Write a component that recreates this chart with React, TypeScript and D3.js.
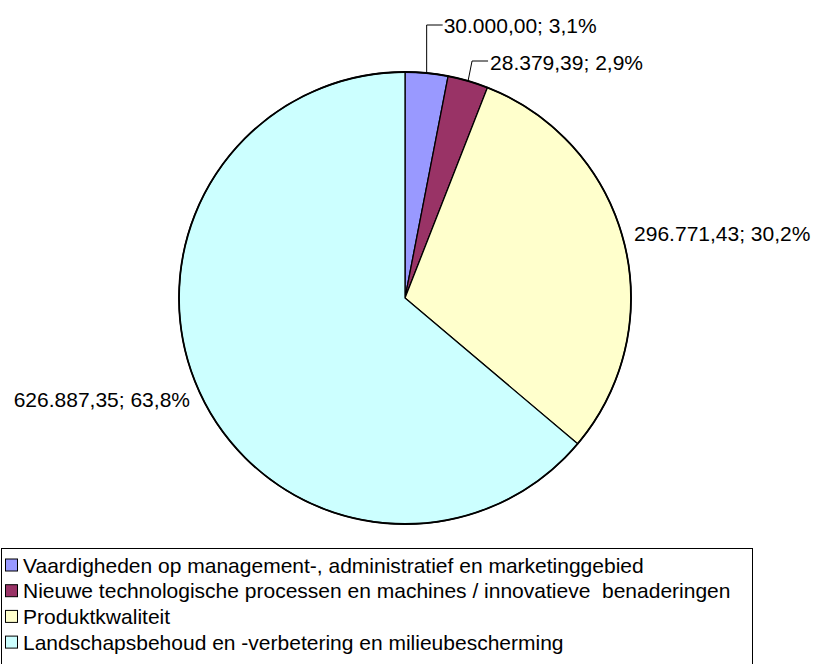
import React from "react";
import * as d3 from "d3";

const categories = [
  "Vaardigheden op management-, administratief en marketinggebied",
  "Nieuwe technologische processen en machines / innovatieve  benaderingen",
  "Produktkwaliteit",
  "Landschapsbehoud en -verbetering en milieubescherming",
];
const values = [30000.0, 28379.39, 296771.43, 626887.35];
const colors = ["#9999FF", "#993366", "#FFFFCC", "#CCFFFF"];

const W = 816;
const H = 664;
const cx = 405;
const cy = 298;
const R = 226;
const FONT = "'Liberation Sans', Arial, sans-serif";

const fmtNum = (v: number) =>
  v.toLocaleString("nl-NL", { minimumFractionDigits: 2, maximumFractionDigits: 2 });
const fmtPct = (p: number) =>
  (p * 100).toLocaleString("nl-NL", { minimumFractionDigits: 1, maximumFractionDigits: 1 }) + "%";

export default function App() {
  const total = d3.sum(values);
  const pie = d3.pie<number>().sort(null).value((d) => d)(values);
  const arc = d3.arc<d3.PieArcDatum<number>>().innerRadius(0).outerRadius(R);

  const labels = pie.map((p, i) => `${fmtNum(values[i])}; ${fmtPct(values[i] / total)}`);
  const edge = (p: d3.PieArcDatum<number>) => {
    const a = (p.startAngle + p.endAngle) / 2;
    return [cx + R * Math.sin(a), cy - R * Math.cos(a)];
  };

  const e0 = edge(pie[0]);
  const e1 = edge(pie[1]);
  const e2 = edge(pie[2]);
  const e3 = edge(pie[3]);

  const rowH = 25.7;
  const legTop = 548;

  return (
    <svg
      width={W}
      height={H}
      style={{ position: "fixed", left: 0, top: 0, background: "#fff" }}
      fontFamily={FONT}
    >
      <g transform={`translate(${cx},${cy})`}>
        {pie.map((p, i) => (
          <path key={i} d={arc(p) || ""} fill={colors[i]} stroke="#000" strokeWidth={1.3} />
        ))}
        <circle r={R} fill="none" stroke="#000" strokeWidth={1.8} />
      </g>
      {/* leader lines */}
      <polyline
        points={`${e0[0]},${e0[1]} ${e0[0]},25 ${e0[0] + 16},25`}
        fill="none"
        stroke="#000"
        strokeWidth={1}
      />
      <polyline
        points={`${e1[0]},${e1[1]} ${e1[0] + 4},61 ${e1[0] + 20},61`}
        fill="none"
        stroke="#000"
        strokeWidth={1}
      />
      <g fontSize={21} fill="#000">
        <text x={e0[0] + 17} y={33}>{labels[0]}</text>
        <text x={e1[0] + 22} y={70}>{labels[1]}</text>
        <text x={e2[0] + 10} y={e2[1] - 2}>{labels[2]}</text>
        <text x={e3[0] - 10} y={e3[1] + 14} textAnchor="end">{labels[3]}</text>
      </g>
      {/* legend */}
      <rect x={1.5} y={legTop + 0.5} width={751} height={140} fill="#fff" stroke="#000" strokeWidth={1} />
      {categories.map((c, i) => {
        const yc = legTop + 17 + i * rowH;
        return (
          <g key={i}>
            <rect x={5.5} y={yc - 6} width={12} height={12} fill={colors[i]} stroke="#000" strokeWidth={1} />
            <text x={23} y={yc + 7.5} fontSize={21} fill="#000" style={{ whiteSpace: "pre" }}>
              {c}
            </text>
          </g>
        );
      })}
    </svg>
  );
}
